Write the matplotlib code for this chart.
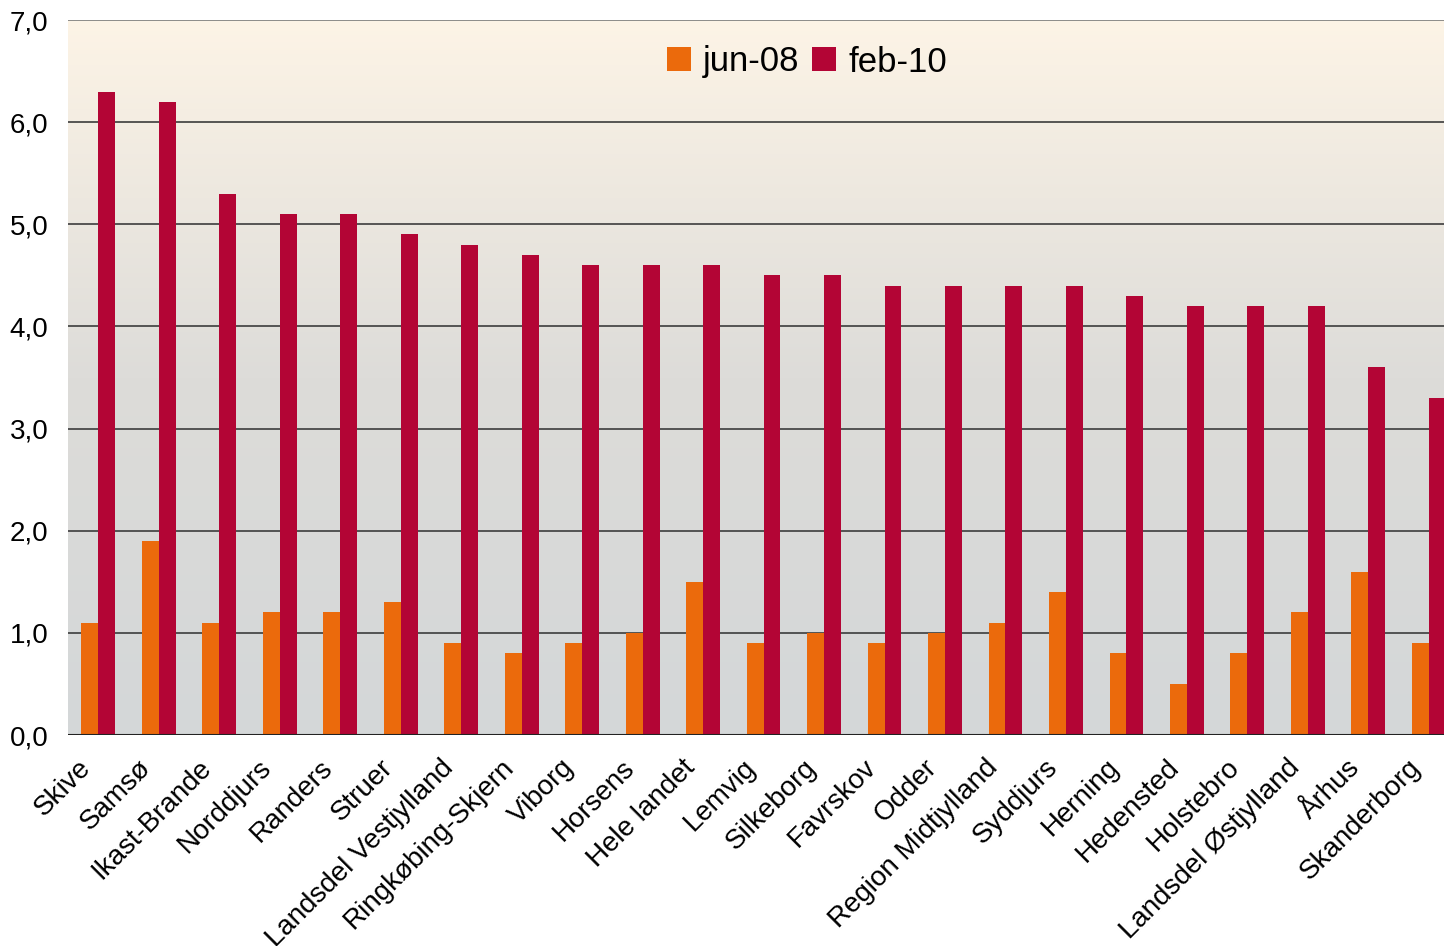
import matplotlib
matplotlib.use("Agg")
import matplotlib.pyplot as plt
import matplotlib.transforms as mtransforms
import numpy as np
from matplotlib.colors import LinearSegmentedColormap

categories = ["Skive", "Samsø", "Ikast-Brande", "Norddjurs", "Randers", "Struer",
              "Landsdel Vestjylland", "Ringkøbing-Skjern", "Viborg", "Horsens",
              "Hele landet", "Lemvig", "Silkeborg", "Favrskov", "Odder",
              "Region Midtjylland", "Syddjurs", "Herning", "Hedensted", "Holstebro",
              "Landsdel Østjylland", "Århus", "Skanderborg"]
jun08 = [1.1, 1.9, 1.1, 1.2, 1.2, 1.3, 0.9, 0.8, 0.9, 1.0, 1.5, 0.9, 1.0, 0.9,
         1.0, 1.1, 1.4, 0.8, 0.5, 0.8, 1.2, 1.6, 0.9]
feb10 = [6.3, 6.2, 5.3, 5.1, 5.1, 4.9, 4.8, 4.7, 4.6, 4.6, 4.6, 4.5, 4.5, 4.4,
         4.4, 4.4, 4.4, 4.3, 4.2, 4.2, 4.2, 3.6, 3.3]
yticks = [0, 1, 2, 3, 4, 5, 6, 7]
ytick_labels = ["0,0", "1,0", "2,0", "3,0", "4,0", "5,0", "6,0", "7,0"]

plt.rcParams['font.family'] = ['Liberation Sans', 'DejaVu Sans']

W, H = 1444, 946
fig = plt.figure(figsize=(W / 100, H / 100), dpi=100)
left, right, top, bottom = 68, 1444, 20, 735
ax = fig.add_axes([left / W, 1 - bottom / H, (right - left) / W, (bottom - top) / H])

# gradient background
cmap = LinearSegmentedColormap.from_list("bg", ["#d4d7d8", "#dddcd9", "#fdf4e6"])
grad = np.linspace(0, 1, 256).reshape(-1, 1)
ax.imshow(grad, aspect='auto', cmap=cmap, origin='lower',
          extent=[0, 1, 0, 1], transform=ax.transAxes, zorder=0)

x = np.arange(len(categories))
bw = 0.28
ax.bar(x - bw / 2, jun08, bw, color="#eb6a0c", label="jun-08", zorder=3)
ax.bar(x + bw / 2, feb10, bw, color="#b30535", label="feb-10", zorder=3)

ax.set_xlim(-0.5, 22.25)
ax.set_ylim(0, 7)
ax.set_yticks(yticks)
ax.set_yticklabels(ytick_labels, fontsize=20)
for y in yticks[1:]:
    ax.axhline(y, color="#3c3c3c" if y < 7 else "#7a7a7a", lw=1.2, zorder=2)
ax.axhline(0, color="#222222", lw=1.5, zorder=4)

ax.set_xticks(x)
ax.set_xticklabels(categories, fontsize=20, rotation=45, ha='right',
                   rotation_mode='anchor')
ax.tick_params(axis='both', length=0)
ax.tick_params(axis='x', pad=14)
ax.tick_params(axis='y', pad=14)
shift = mtransforms.ScaledTranslation(-0.21, 0.0, fig.dpi_scale_trans)
for lbl in ax.get_xticklabels():
    lbl.set_transform(lbl.get_transform() + shift)
for s in ax.spines.values():
    s.set_visible(False)

leg = ax.legend(loc='center', bbox_to_anchor=((807 - left) / (right - left), (bottom - 62) / (bottom - top)),
                ncol=2, frameon=False, fontsize=25, handlelength=0.7, handleheight=0.7,
                handletextpad=0.35, columnspacing=0.35)

fig.savefig("out.png", dpi=100)
